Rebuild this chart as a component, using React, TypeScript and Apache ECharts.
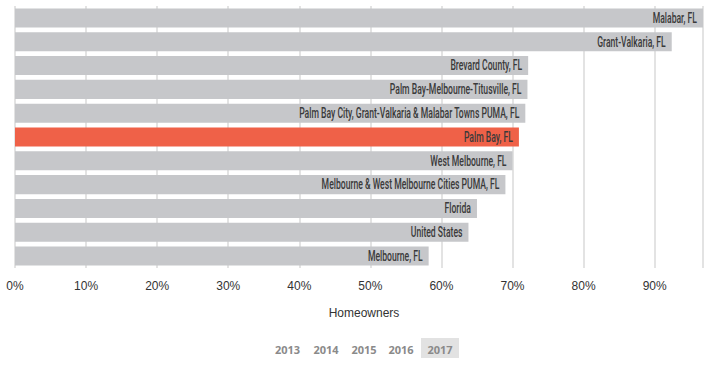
import React, { useEffect, useRef } from "react";
import * as echarts from "echarts";

const categories = [
  "Malabar, FL",
  "Grant-Valkaria, FL",
  "Brevard County, FL",
  "Palm Bay-Melbourne-Titusville, FL",
  "Palm Bay City, Grant-Valkaria & Malabar Towns PUMA, FL",
  "Palm Bay, FL",
  "West Melbourne, FL",
  "Melbourne & West Melbourne Cities PUMA, FL",
  "Florida",
  "United States",
  "Melbourne, FL",
];
const values = [96.8, 92.4, 72.2, 72.1, 71.8, 70.9, 70.0, 69.0, 65.0, 63.8, 58.2];
const highlight = "Palm Bay, FL";
const years = ["2013", "2014", "2015", "2016", "2017"];
const activeYear = "2017";

export default function App() {
  const ref = useRef<HTMLDivElement>(null);
  useEffect(() => {
    if (!ref.current) return;
    const chart = echarts.init(ref.current, undefined, { renderer: "svg" });
    const yearCenters = [287.5, 326, 364, 401, 440];
    const graphic: any[] = [];
    years.forEach((y, i) => {
      if (y === activeYear) {
        graphic.push({
          type: "rect",
          shape: { x: yearCenters[i] - 19, y: 338, width: 38, height: 20 },
          style: { fill: "#e2e2e2" },
        });
      }
      graphic.push({
        type: "text",
        x: yearCenters[i],
        y: 349,
        style: {
          text: y,
          fill: "#8a8a8a",
          fontSize: 11,
          fontWeight: "bold",
          fontFamily: "'Open Sans', sans-serif",
          textAlign: "center",
          textVerticalAlign: "middle",
        },
      });
    });
    chart.setOption({
      animation: false,
      grid: { left: 15, right: 15, top: 6, bottom: 98, containLabel: false },
      xAxis: {
        type: "value",
        min: 0,
        max: Math.max(...values),
        interval: 10,
        name: "Homeowners",
        nameLocation: "middle",
        nameGap: 39,
        nameTextStyle: {
          color: "#333",
          fontSize: 12,
          fontFamily: "Liberation Sans, sans-serif",
          padding: [0, 0, 0, 10],
        },
        axisLine: { show: false },
        axisTick: { show: false },
        axisLabel: {
          color: "#333",
          fontSize: 12,
          fontFamily: "Liberation Sans, sans-serif",
          margin: 12,
          showMaxLabel: false,
          formatter: (v: number) => (v % 10 === 0 ? v + "%" : ""),
        },
        splitLine: { show: true, lineStyle: { color: "#e3e3e3", width: 2 } },
      },
      yAxis: {
        type: "category",
        data: categories,
        inverse: true,
        axisLine: { show: false },
        axisTick: { show: false },
        axisLabel: { show: false },
        splitLine: { show: false },
      },
      series: [
        {
          type: "bar",
          data: values.map((v, i) => ({
            value: v,
            itemStyle: { color: categories[i] === highlight ? "#ef6148" : "#c6c7ca" },
          })),
          barCategoryGap: "20%",
          z: 2,
        },
        {
          type: "custom",
          z: 3,
          data: values.map((v, i) => [v, i]),
          encode: { x: 0, y: 1 },
          renderItem: (params: any, api: any) => {
            const idx = api.value(1);
            const p = api.coord([api.value(0), idx]);
            return {
              type: "text",
              x: p[0] - 6,
              y: p[1],
              scaleX: 0.615,
              style: {
                text: categories[idx],
                fill: "#3a3a3a",
                fontSize: 14,
                fontWeight: 500,
                fontFamily: "Roboto, sans-serif",
                textAlign: "right",
                textVerticalAlign: "middle",
              },
            };
          },
        },
      ],
      graphic,
    });
    return () => chart.dispose();
  }, []);
  return (
    <div
      ref={ref}
      style={{ position: "absolute", left: 0, top: 0, width: 718, height: 366 }}
    />
  );
}
